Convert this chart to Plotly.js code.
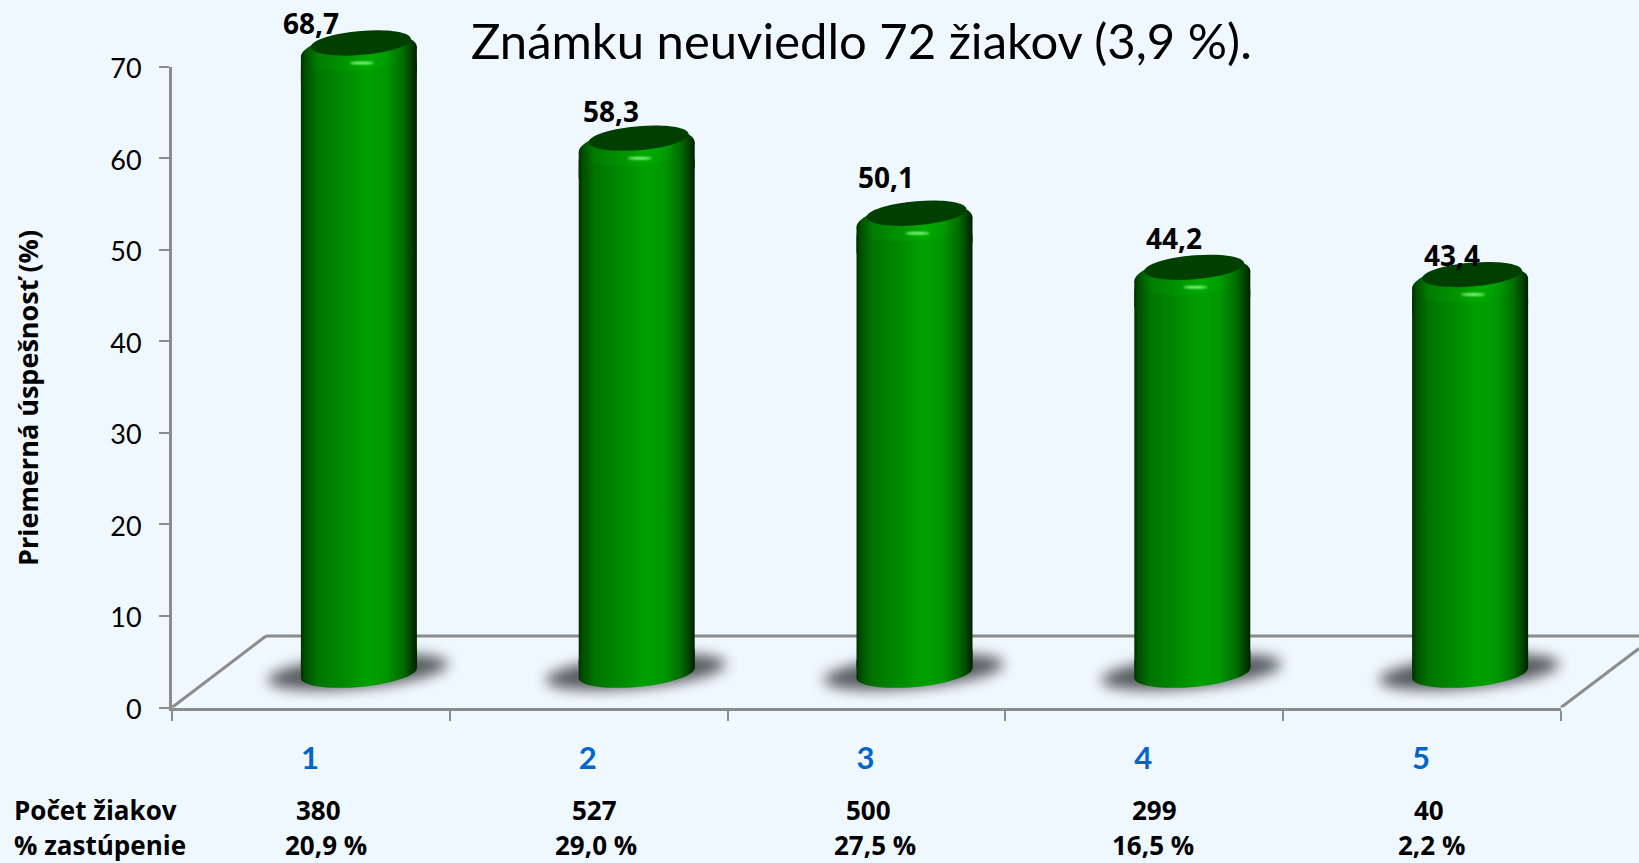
<!DOCTYPE html>
<html><head><meta charset="utf-8">
<script src="https://cdn.plot.ly/plotly-3.0.1.min.js"></script>
<style>html,body{margin:0;padding:0;background:#f0f8ff;overflow:hidden}#c{width:1639px;height:863px}</style>
</head><body><div id="c"></div>
<svg width="0" height="0" style="position:absolute"><defs>
<linearGradient id="cyl" x1="0" x2="1" y1="0" y2="0">
<stop offset="0" stop-color="#003000"/><stop offset=".04" stop-color="#005000"/><stop offset=".14" stop-color="#007400"/><stop offset=".35" stop-color="#008800"/><stop offset=".58" stop-color="#00a000"/><stop offset=".74" stop-color="#009600"/><stop offset=".88" stop-color="#006c00"/><stop offset=".96" stop-color="#003c00"/><stop offset="1" stop-color="#002000"/>
</linearGradient>
<linearGradient id="bevel" x1="0" x2="1" y1="0" y2="0">
<stop offset="0" stop-color="#003000"/><stop offset=".04" stop-color="#005000"/><stop offset=".14" stop-color="#007c00"/><stop offset=".35" stop-color="#009000"/><stop offset=".58" stop-color="#00aa00"/><stop offset=".74" stop-color="#009c00"/><stop offset=".88" stop-color="#006c00"/><stop offset=".96" stop-color="#003c00"/><stop offset="1" stop-color="#002000"/>
</linearGradient>
<filter id="soft" x="-30%" y="-80%" width="160%" height="260%"><feGaussianBlur stdDeviation="7"/></filter>
<filter id="glint" x="-50%" y="-200%" width="200%" height="500%"><feGaussianBlur stdDeviation="1"/></filter>
</defs></svg>
<script>
// ---- data ----
const grades = ["1","2","3","4","5"];
const meanScore = [68.7,58.3,50.1,44.2,43.4];
const scoreLabels = ["68,7","58,3","50,1","44,2","43,4"];
const pupilCounts = ["380","527","500","299","40"];
const pupilShares = ["20,9 %","29,0 %","27,5 %","16,5 %","2,2 %"];
const chartTitle = "Známku neuviedlo 72 žiakov (3,9 %).";
const yTitle = "Priemerná úspešnosť (%)";
const rowCount = "Počet žiakov", rowShare = "% zastúpenie";
const yTicks = [0,10,20,30,40,50,60,70];

// ---- layout constants (pixels of the 1639x863 page) ----
const W=1639,H=863, L=172,R=1561, Y0=707.5,Y70=66.7;
const catW=(R-L)/5, unit=(Y0-Y70)/70;
const px2x=p=>p/catW, px2y=p=>p/unit;
const barShift=px2x(48), barW=px2x(116);
const barZero=668, barTopPad=8, barFloor=702;
const py=p=>1-p/H, pxp=p=>p/W;
const labelNudge=[[0,-16],[22,-23],[19,-32],[30,-25],[30,-16]];
const countNudge=[8,6,2,10,7], shareNudge=[15,7,8,9,9];

function sheared(cx,cy,ax,ay,b){
  const k=.5523,f=(u,v)=>(cx+u*ax).toFixed(5)+','+(cy+u*ay+v*b).toFixed(4);
  return 'M'+f(1,0)+'C'+f(1,k)+' '+f(k,1)+' '+f(0,1)+'C'+f(-k,1)+' '+f(-1,k)+' '+f(-1,0)+
         'C'+f(-1,-k)+' '+f(-k,-1)+' '+f(0,-1)+'C'+f(k,-1)+' '+f(1,-k)+' '+f(1,0)+'Z';
}
// slanted band as wide as the cylinder: joins the elliptical ends to the straight sides
function collar(cx,cy,ax,ay,drop){
  const p=(u,d)=>(cx+u*ax).toFixed(5)+','+(cy+u*ay+d).toFixed(4);
  return 'M'+p(-1,0)+'L'+p(1,0)+'L'+p(1,drop)+'L'+p(-1,drop)+'Z';
}
const shapes=[],paint=[];
function add(s,p){shapes.push(Object.assign({line:{width:0}},s));paint.push(p||null);}
const floorY=px2y(71.5);
const floorLine={color:'#8c8c8c',width:3};
add({type:'line',xref:'paper',yref:'y',x0:pxp(L),y0:0,x1:pxp(L+94),y1:floorY,line:floorLine,layer:'below'});
add({type:'line',xref:'paper',yref:'y',x0:pxp(L+94),y0:floorY,x1:1,y1:floorY,line:floorLine,layer:'below'});
add({type:'line',xref:'paper',yref:'y',x0:pxp(R),y0:0,x1:1,y1:px2y(59),line:floorLine,layer:'below'});
grades.forEach((g,i)=>{
  const cx=i+barShift, v=meanScore[i], topOff=barZero-628.9;
  const shadowCx=pxp(L+catW*(i+.5)+47);
  add({type:'path',xref:'paper',yref:'y2',layer:'below',fillcolor:'#4e5155',opacity:.95,
       path:sheared(shadowCx,px2y(barZero-672),pxp(90),px2y(8),px2y(16))},'soft');
  add({type:'path',xref:'x',yref:'y2',layer:'below',fillcolor:'#008400',
       path:sheared(cx,px2y(barZero-673),barW/2,px2y(5),px2y(14))},'cyl');
  add({type:'path',xref:'x',yref:'y2',layer:'below',fillcolor:'#008400',
       path:collar(cx,px2y(barZero-673),barW/2,px2y(5),px2y(18))},'cyl');
  add({type:'path',xref:'x',yref:'y2',layer:'above',fillcolor:'#008400',
       path:collar(cx,v+px2y(topOff-52),barW/2,px2y(5),-px2y(26))},'cyl');
  add({type:'path',xref:'x',yref:'y2',layer:'above',fillcolor:'#009000',
       path:sheared(cx,v+px2y(topOff-52),barW/2,px2y(5),px2y(18.5))},'bevel');
  add({type:'path',xref:'x',yref:'y2',layer:'above',fillcolor:'#003f00',
       path:sheared(cx+px2x(2),v+px2y(topOff-43),px2x(50),px2y(4),px2y(12))});
  add({type:'path',xref:'x',yref:'y2',layer:'above',fillcolor:'#90ff90',
       path:sheared(cx+px2x(3),v+px2y(topOff-63),px2x(12),0,px2y(1.3))},'glint');
});
const ann=[];
const boldFont=s=>({family:'Open Sans',size:s,color:'#000'});
grades.forEach((g,i)=>{
  ann.push({xref:'x',yref:'y2',x:i,y:meanScore[i],text:'<b>'+scoreLabels[i]+'</b>',showarrow:false,
    xshift:labelNudge[i][0],yshift:-labelNudge[i][1],xanchor:'center',yanchor:'middle',font:boldFont(28)});
  ann.push({xref:'x',yref:'paper',x:i,y:py(810),text:'<b>'+pupilCounts[i]+'</b>',showarrow:false,
    xshift:countNudge[i],xanchor:'center',yanchor:'middle',font:boldFont(26)});
  ann.push({xref:'x',yref:'paper',x:i,y:py(844.5),text:'<b>'+pupilShares[i]+'</b>',showarrow:false,
    xshift:shareNudge[i],xanchor:'center',yanchor:'middle',font:boldFont(26)});
});
[[rowCount,810],[rowShare,844.5]].forEach(r=>ann.push({xref:'paper',yref:'paper',x:pxp(12),y:py(r[1]),text:'<b>'+r[0]+'</b>',
  showarrow:false,xanchor:'left',yanchor:'middle',font:boldFont(26)}));
ann.push({xref:'paper',yref:'paper',x:pxp(27),y:py(398),text:'<b>'+yTitle+'</b>',textangle:-90,showarrow:false,
  xanchor:'center',yanchor:'middle',font:boldFont(27)});

const trace={type:'bar',x:grades,y:meanScore,xaxis:'x',yaxis:'y2',width:barW,offset:barShift-barW/2,
  marker:{color:'#008c00',cornerradius:28,line:{width:0}},hoverinfo:'skip',cliponaxis:false,showlegend:false};
const layout={
  width:W,height:H,margin:{l:0,r:0,t:0,b:0},paper_bgcolor:'#f0f8ff',plot_bgcolor:'rgba(0,0,0,0)',showlegend:false,
  barmode:'overlay',
  title:{text:chartTitle,x:pxp(471),xanchor:'left',xref:'paper',y:py(42),yanchor:'middle',yref:'paper',
         font:{family:'Lato',size:49,color:'#000'},automargin:false},
  xaxis:{type:'category',domain:[pxp(L),pxp(R)],range:[-.5,4.5],anchor:'y',categoryorder:'array',categoryarray:grades,
    tickson:'boundaries',ticks:'outside',ticklen:10,tickwidth:2,tickcolor:'#8c8c8c',showgrid:false,zeroline:false,
    showline:true,linecolor:'#8c8c8c',linewidth:3,ticklabelstandoff:21,ticklabelshift:-1,
    tickfont:{family:'Lato',size:31,color:'#0066cc',weight:'bold'}},
  yaxis:{domain:[py(Y0),py(Y70)],range:[0,70],anchor:'x',tickmode:'array',tickvals:yTicks,ticktext:yTicks.map(String),
    ticks:'outside',ticklen:10,tickwidth:2,tickcolor:'#8c8c8c',showgrid:false,zeroline:false,showline:true,
    linecolor:'#8c8c8c',linewidth:3,ticklabelstandoff:12,ticklabelshift:2,tickfont:{family:'Lato',size:27,color:'#000'}},
  yaxis2:{domain:[py(barFloor),py(barTopPad)],range:[-(barFloor-barZero)/unit,(barZero-barTopPad)/unit],anchor:'x',visible:false,fixedrange:true},
  shapes:shapes,annotations:ann
};
Plotly.newPlot('c',[trace],layout,{displayModeBar:false,staticPlot:true,responsive:false}).then(gd=>{
  paint.forEach((p,i)=>{
    if(!p)return;
    const el=gd.querySelector('path[data-index="'+i+'"]');
    if(!el)return;
    if(p==='soft'||p==='glint'){el.setAttribute('filter','url(#'+p+')');}
    else{el.style.fill='url(#'+p+')';}
  });
  gd.querySelectorAll('.bars .point path').forEach(b=>{b.style.fill='url(#cyl)';});
});
</script></body></html>
